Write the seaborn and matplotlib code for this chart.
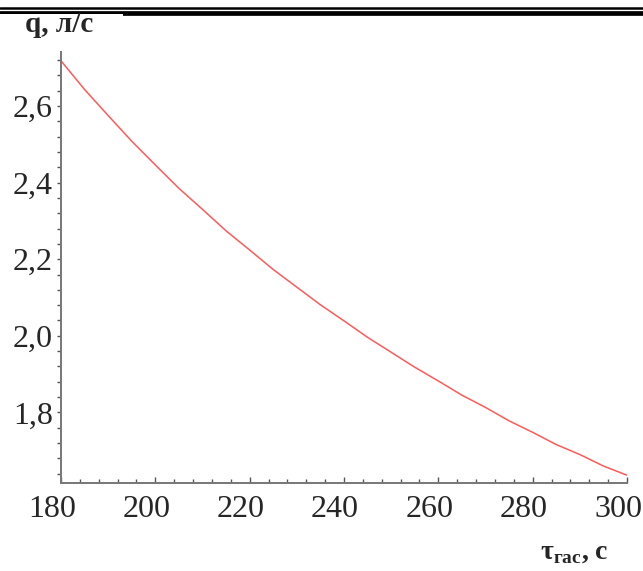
import matplotlib
matplotlib.use("Agg")
import matplotlib.pyplot as plt
import matplotlib.transforms as mtransforms
import seaborn as sns
import pandas as pd
from matplotlib.lines import Line2D
from matplotlib.patches import Rectangle
from matplotlib.ticker import MultipleLocator

# values
tau = [180, 185, 190, 195, 200, 205, 210, 215, 220, 225, 230, 235, 240,
       245, 250, 255, 260, 265, 270, 275, 280, 285, 290, 295, 300]
q = [2.718, 2.643, 2.575, 2.508, 2.446, 2.385, 2.330, 2.274, 2.224, 2.173, 2.127, 2.081, 2.039,
     1.996, 1.957, 1.918, 1.882, 1.845, 1.813, 1.778, 1.748, 1.716, 1.690, 1.660, 1.636]
yticks = [1.8, 2.0, 2.2, 2.4, 2.6]
ytick_labels = ["1,8", "2,0", "2,2", "2,4", "2,6"]
xticks = [180, 200, 220, 240, 260, 280, 300]

df = pd.DataFrame({"tau": tau, "q": q})

sns.set_style("ticks")
plt.rcParams["font.family"] = ["Liberation Serif", "DejaVu Serif"]
plt.rcParams["mathtext.fontset"] = "custom"
plt.rcParams["mathtext.rm"] = "Liberation Serif"
plt.rcParams["mathtext.bf"] = "Liberation Serif:bold"

W, H = 643, 571
fig = plt.figure(figsize=(W / 100, H / 100), dpi=100)
ax = fig.add_axes([61 / W, 1 - 482.5 / H, (627 - 61) / W, (482.5 - 52) / H])

sns.lineplot(data=df, x="tau", y="q", ax=ax, color="#ff5a5a", linewidth=1.1)

ax.set_xlim(180, 300)
ax.set_ylim(1.617, 2.741)
ax.set_xticks(xticks)
ax.set_xticklabels([str(t) for t in xticks])
ax.set_yticks(yticks)
ax.set_yticklabels(ytick_labels)
ax.xaxis.set_minor_locator(MultipleLocator(4))
ax.yaxis.set_minor_locator(MultipleLocator(0.04))
ax.set_xlabel("")
ax.set_ylabel("")

for side in ["top", "right"]:
    ax.spines[side].set_visible(False)
for side in ["left", "bottom"]:
    ax.spines[side].set_color("#777777")
    ax.spines[side].set_linewidth(1.4)

ax.tick_params(axis="x", which="major", direction="in", length=4, width=1, color="#555555",
               labelsize=23, pad=9)
ax.tick_params(axis="x", which="minor", direction="in", length=3, width=1, color="#555555")
ax.tick_params(axis="y", which="major", direction="out", length=3, width=1, color="#555555",
               labelsize=23, pad=3)
ax.tick_params(axis="y", which="minor", direction="out", length=3, width=1, color="#555555")

# x tick labels sit a little left of their ticks in the reference
shift = mtransforms.ScaledTranslation(-9 / 100, 0, fig.dpi_scale_trans)
for lbl in ax.get_xticklabels():
    lbl.set_transform(lbl.get_transform() + shift)

# header rules
fig.add_artist(Line2D([0, 1], [1 - 7.8 / H, 1 - 7.8 / H], color="black", linewidth=1.8))
fig.add_artist(Line2D([0, 1], [1 - 13.2 / H, 1 - 13.2 / H], color="black", linewidth=3.4))
fig.add_artist(Rectangle((0, 1 - 42 / H), 123 / W, (42 - 14.5) / H, transform=fig.transFigure,
                         facecolor="white", edgecolor="none", zorder=3))

fig.text(25 / W, 1 - 32 / H, "q, л/с", fontsize=21, fontweight="bold", ha="left",
         va="baseline", zorder=4)
fig.text(540 / W, 1 - 559 / H, r"$\mathbf{τ}_{\mathbf{гас}}$" + ", с", fontsize=20,
         fontweight="bold", ha="left", va="baseline")

fig.savefig("out.png", dpi=100)
